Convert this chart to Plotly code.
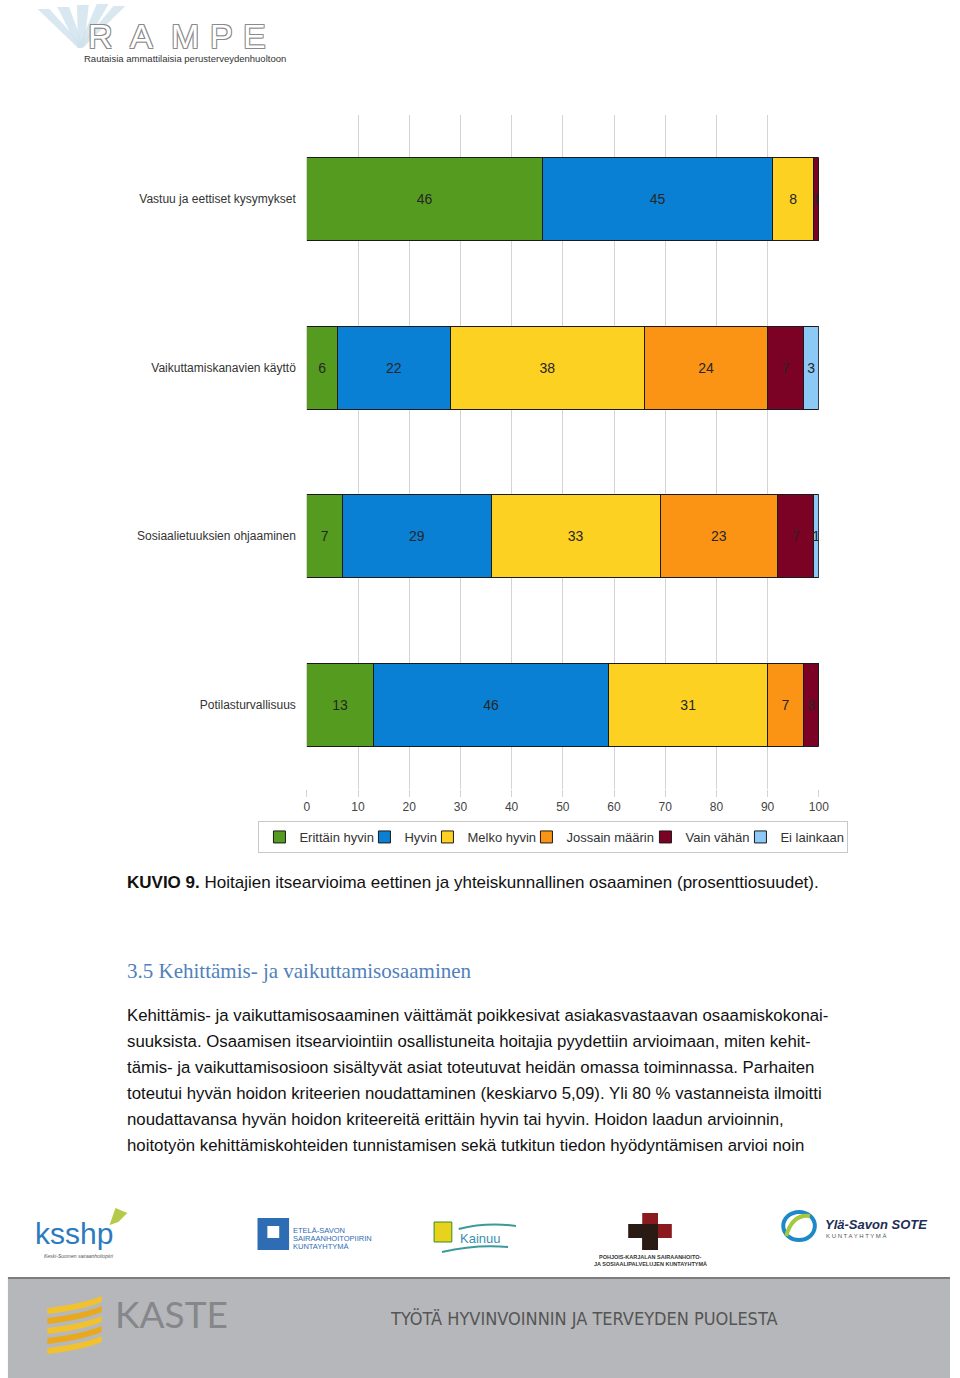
import plotly.graph_objects as go

# ---------------- data ----------------
categories = [
    "Vastuu ja eettiset kysymykset",
    "Vaikuttamiskanavien käyttö",
    "Sosiaalietuuksien ohjaaminen",
    "Potilasturvallisuus",
]
series_names = ["Erittäin hyvin", "Hyvin", "Melko hyvin", "Jossain määrin", "Vain vähän", "Ei lainkaan"]
erittain_hyvin = [46, 6, 7, 13]
hyvin = [45, 22, 29, 46]
melko_hyvin = [8, 38, 33, 31]
jossain_maarin = [0, 24, 23, 7]
vain_vahan = [1, 7, 7, 3]
ei_lainkaan = [0, 3, 1, 0]
x_ticks = [0, 10, 20, 30, 40, 50, 60, 70, 80, 90, 100]

series_values = [erittain_hyvin, hyvin, melko_hyvin, jossain_maarin, vain_vahan, ei_lainkaan]
colors = ["#559B1F", "#0A80D4", "#FDD122", "#FB9414", "#7B0125", "#8DC9F7"]
# legend entry text-area widths (px) so the entries pack tightly like the reference
legend_widths = [60, 18, 54, 74, 50, 62]

W, H = 960, 1378


def px(x):
    return x / W


def py(y):
    return 1 - y / H


FONT = "Liberation Sans, Arial, sans-serif"

fig = go.Figure()
for name, vals, col, lw in zip(series_names, series_values, colors, legend_widths):
    fig.add_trace(go.Bar(
        y=categories, x=vals, name=name, orientation="h",
        marker=dict(color=col, line=dict(color="#1a1a1a", width=1)),
        text=[str(v) if v else "" for v in vals],
        textposition="inside", insidetextanchor="middle",
        textfont=dict(family=FONT, size=14, color="#262626"),
        hoverinfo="skip", legendwidth=lw,
    ))

fig.update_layout(
    width=W, height=H,
    margin=dict(l=0, r=0, t=0, b=0),
    paper_bgcolor="white", plot_bgcolor="white",
    barmode="stack", bargap=0.51,
    showlegend=True,
    uniformtext=dict(minsize=14, mode="show"),
    legend=dict(
        orientation="h", x=px(558), xanchor="center", y=py(821), yanchor="top",
        font=dict(family=FONT, size=13, color="#333"),
        bordercolor="#c8c8c8", borderwidth=1, bgcolor="white",
        itemwidth=30, traceorder="normal",
    ),
    xaxis=dict(
        domain=[px(308), px(827)], range=[0, 100], tickvals=x_ticks,
        showgrid=True, gridcolor="#d4d4d4", gridwidth=1, zeroline=False,
        ticks="outside", ticklen=7, tickcolor="#d4d4d4",
        tickfont=dict(family=FONT, size=12, color="#444"),
        showline=False, fixedrange=True,
    ),
    yaxis=dict(
        domain=[py(789), py(115)], autorange="reversed", type="category",
        tickfont=dict(family=FONT, size=12, color="#333"), ticks="",
        ticklabelstandoff=10, showgrid=False, showline=False, fixedrange=True,
    ),
    font=dict(family=FONT),
)

ann = []
shapes = []


def text(x, y, s, size, color="#222", family=FONT, xanchor="left", **kw):
    ann.append(dict(x=px(x), y=py(y), xref="paper", yref="paper", text=s,
                    showarrow=False, xanchor=xanchor, yanchor="middle",
                    font=dict(family=family, size=size, color=color, **kw)))


# ---------- RAMPE logo ----------
for x0, y0 in [(35, 9), (55, 7), (75, 5), (95, 4), (112, 6)]:
    shapes.append(dict(type="path", xref="paper", yref="paper",
                       path=f"M {px(x0)} {py(y0)} L {px(x0+12)} {py(y0)} L {px(82)} {py(47)} L {px(76)} {py(48)} Z",
                       fillcolor="#cfe2ec", line=dict(width=0), opacity=0.8))
outline = "1px 1px 0 #8a8a8a, -1px -1px 0 #8a8a8a, 1px -1px 0 #8a8a8a, -1px 1px 0 #8a8a8a"
for letter, cx in zip("RAMPE", [99, 140, 184, 222, 255]):
    text(cx, 36, letter, 34, color="white", xanchor="center", shadow=outline)
text(80, 59, "Rautaisia ammattilaisia perusterveydenhuoltoon", 9.5, color="#333")

# ---------- caption & heading ----------
text(124, 882, "<b>KUVIO 9.</b> Hoitajien itsearvioima eettinen ja yhteiskunnallinen osaaminen (prosenttiosuudet).", 17, color="#111")
text(124, 971, "3.5 Kehittämis- ja vaikuttamisosaaminen", 21, color="#4F81BD",
     family="Liberation Serif, DejaVu Serif, serif")

paragraph = [
    "Kehittämis- ja vaikuttamisosaaminen väittämät poikkesivat asiakasvastaavan osaamiskokonai-",
    "suuksista. Osaamisen itsearviointiin osallistuneita hoitajia pyydettiin arvioimaan, miten kehit-",
    "tämis- ja vaikuttamisosioon sisältyvät asiat toteutuvat heidän omassa toiminnassa. Parhaiten",
    "toteutui hyvän hoidon kriteerien noudattaminen (keskiarvo 5,09). Yli 80 % vastanneista ilmoitti",
    "noudattavansa hyvän hoidon kriteereitä erittäin hyvin tai hyvin. Hoidon laadun arvioinnin,",
    "hoitotyön kehittämiskohteiden tunnistamisen sekä tutkitun tiedon hyödyntämisen arvioi noin",
]
for i, line in enumerate(paragraph):
    text(124, 1015 + 26 * i, line, 16.8, color="#111")

# ---------- partner logos ----------
text(30, 1233, "ksshp", 30, color="#2C7BBE")
shapes.append(dict(type="path", xref="paper", yref="paper",
                   path=f"M {px(108)} {py(1225)} L {px(114)} {py(1208)} L {px(126)} {py(1213)} L {px(117)} {py(1222)} Z",
                   fillcolor="#B7C94A", line=dict(width=0)))
text(40, 1256, "<i>Keski-Suomen sairaanhoitopiiri</i>", 5, color="#555")

shapes.append(dict(type="rect", xref="paper", yref="paper", x0=px(258), x1=px(290), y0=py(1250), y1=py(1218),
                   fillcolor="#2E6DB4", line=dict(width=0)))
shapes.append(dict(type="rect", xref="paper", yref="paper", x0=px(268), x1=px(280), y0=py(1238), y1=py(1226),
                   fillcolor="white", line=dict(width=0)))
text(292, 1230, "ETELÄ-SAVON", 7.5, color="#2E6DB4")
text(292, 1238, "SAIRAANHOITOPIIRIN", 7.5, color="#2E6DB4")
text(292, 1246, "KUNTAYHTYMÄ", 7.5, color="#2E6DB4")

shapes.append(dict(type="rect", xref="paper", yref="paper", x0=px(437), x1=px(455), y0=py(1242), y1=py(1222),
                   fillcolor="#E8D31C", line=dict(color="#3a8a2a", width=1)))
text(461, 1238, "Kainuu", 13, color="#3C8FB0")
shapes.append(dict(type="path", xref="paper", yref="paper",
                   path=f"M {px(462)} {py(1229)} Q {px(490)} {py(1222)} {px(520)} {py(1226)}",
                   line=dict(color="#3C9A9A", width=2)))
shapes.append(dict(type="path", xref="paper", yref="paper",
                   path=f"M {px(445)} {py(1252)} Q {px(480)} {py(1244)} {px(512)} {py(1247)}",
                   line=dict(color="#3C9A9A", width=2)))

shapes.append(dict(type="rect", xref="paper", yref="paper", x0=px(648), x1=px(664), y0=py(1250), y1=py(1213),
                   fillcolor="#8B1A1E", line=dict(width=0)))
shapes.append(dict(type="rect", xref="paper", yref="paper", x0=px(634), x1=px(678), y0=py(1238), y1=py(1224),
                   fillcolor="#8B1A1E", line=dict(width=0)))
shapes.append(dict(type="path", xref="paper", yref="paper",
                   path=f"M {px(634)} {py(1224)} L {px(664)} {py(1224)} L {px(664)} {py(1250)} L {px(648)} {py(1250)} L {px(648)} {py(1238)} L {px(634)} {py(1238)} Z",
                   fillcolor="#2a1a14", line=dict(width=0)))
text(656, 1257, "<b>POHJOIS-KARJALAN SAIRAANHOITO-</b>", 5.5, color="#333", xanchor="center")
text(656, 1264, "<b>JA SOSIAALIPALVELUJEN KUNTAYHTYMÄ</b>", 5.5, color="#333", xanchor="center")

shapes.append(dict(type="circle", xref="paper", yref="paper", x0=px(791), x1=px(823), y0=py(1240), y1=py(1212),
                   fillcolor="rgba(0,0,0,0)", line=dict(color="#1E88C8", width=4)))
shapes.append(dict(type="path", xref="paper", yref="paper",
                   path=f"M {px(794)} {py(1236)} Q {px(800)} {py(1214)} {px(818)} {py(1216)}",
                   line=dict(color="#A5C83C", width=4)))
text(831, 1224, "<b><i>Ylä-Savon SOTE</i></b>", 13, color="#1E2D55")
text(832, 1236, "K U N T A Y H T Y M Ä", 6, color="#555")

# ---------- footer band ----------
shapes.append(dict(type="rect", xref="paper", yref="paper", x0=px(5), x1=px(960), y0=py(1378), y1=py(1279),
                   fillcolor="#B6B7BA", line=dict(width=0), layer="below"))
shapes.append(dict(type="line", xref="paper", yref="paper", x0=px(5), x1=px(960), y0=py(1278), y1=py(1278),
                   line=dict(color="#7d7d7d", width=2)))
for k in range(5):
    y0 = 1300 + 10 * k
    shapes.append(dict(type="path", xref="paper", yref="paper",
                       path=f"M {px(45)} {py(y0+8)} Q {px(80)} {py(y0+4)} {px(100)} {py(y0-4)} L {px(100)} {py(y0+2)} Q {px(80)} {py(y0+10)} {px(45)} {py(y0+14)} Z",
                       fillcolor="#F2C12E" if k % 2 == 0 else "#E8A91C", line=dict(width=0)))
text(112, 1313, "KASTE", 37, color="#85878A", family="Lato, Open Sans, sans-serif")
text(390, 1318, "TYÖTÄ HYVINVOINNIN JA TERVEYDEN PUOLESTA", 18, color="#555",
     family="DejaVu Sans Condensed, Liberation Sans Narrow, Roboto, sans-serif")

fig.update_layout(annotations=ann, shapes=shapes)
fig.write_html(
    "out.html", config={"displayModeBar": False},
    post_script=(
        "document.documentElement.style.overflow='hidden';"
        "document.body.style.overflow='hidden';"
        "document.body.style.margin='0';"
    ),
)
